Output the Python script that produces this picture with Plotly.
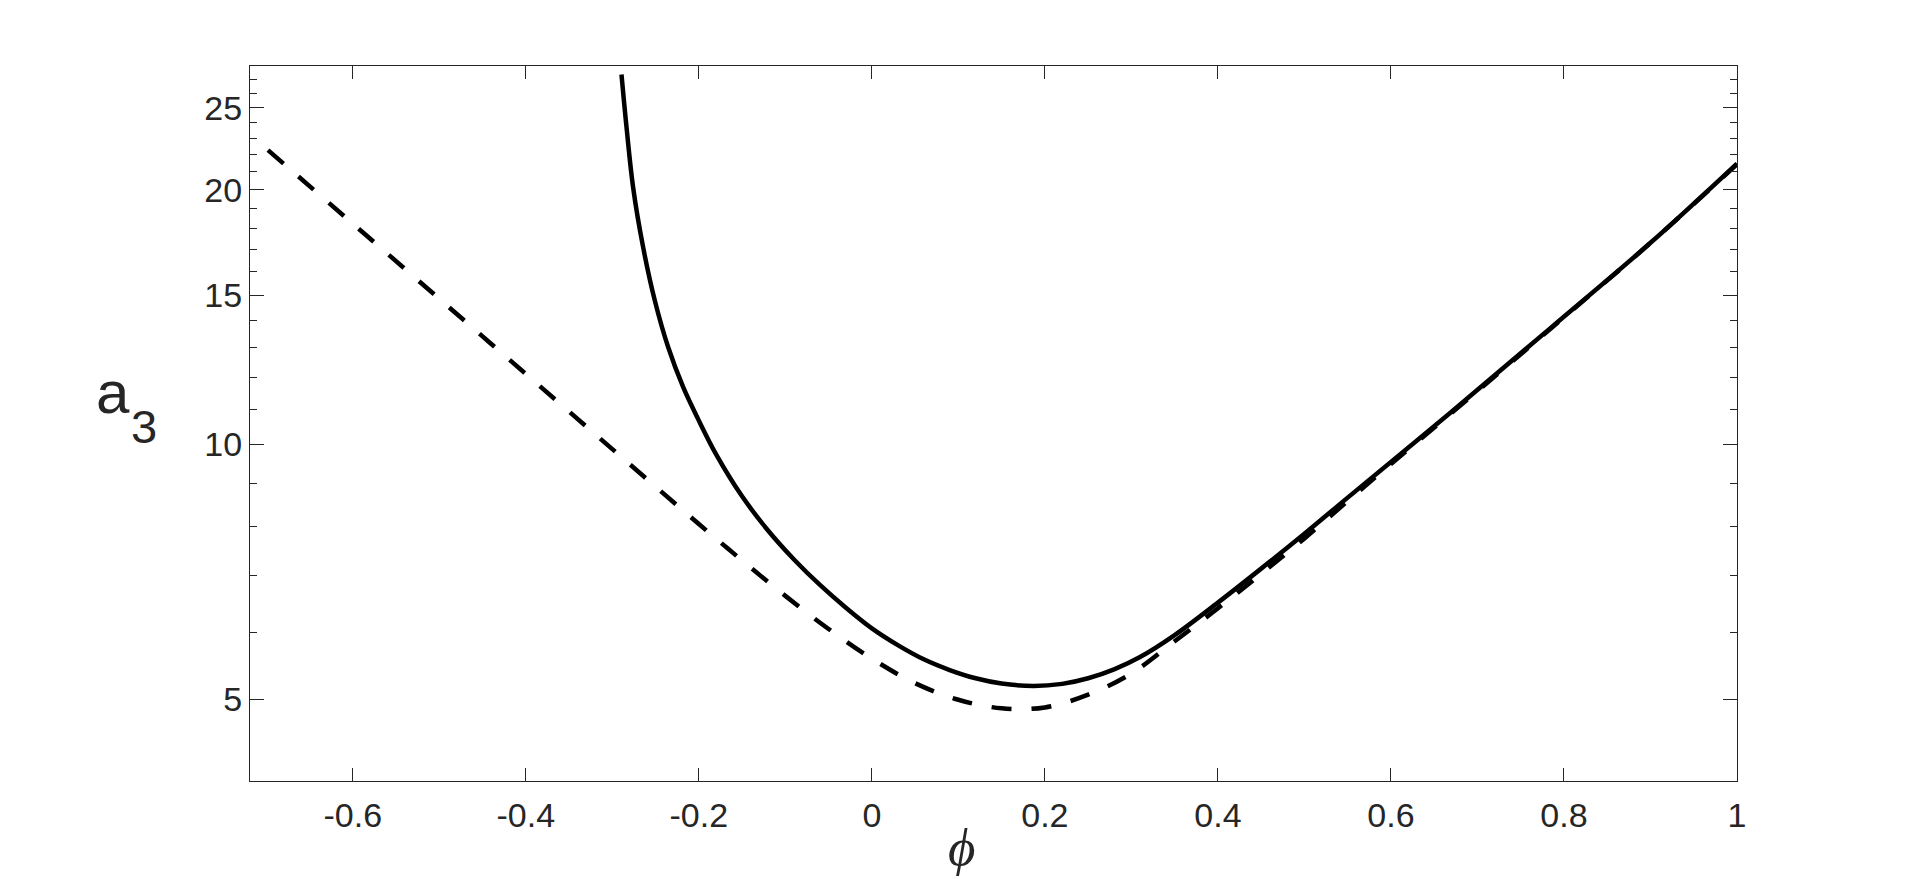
import numpy as np
import plotly.graph_objects as go

# ---- data ----
solid_x = [-0.2894, -0.2836, -0.276, -0.2644, -0.2509, -0.2355, -0.2182, -0.2008,
           -0.18, -0.15, -0.12, -0.09, -0.06, -0.03, 0.0, 0.03, 0.06, 0.09, 0.12,
           0.15, 0.187, 0.22, 0.25, 0.28, 0.31, 0.35, 0.40, 0.45, 0.50, 0.55,
           0.668, 0.784, 0.899, 1.0]
solid_y = [27.36, 23.71, 20.14, 17.10, 14.79, 13.03, 11.69, 10.71,
           9.73, 8.68, 7.91, 7.31, 6.82, 6.41, 6.06, 5.79, 5.57, 5.41, 5.29,
           5.215, 5.18, 5.21, 5.29, 5.42, 5.605, 5.95, 6.50, 7.13, 7.84, 8.65,
           10.88, 13.71, 17.27, 21.47]

dash_x = [-0.698, -0.6, -0.5, -0.4, -0.3, -0.2, -0.15, -0.1, -0.05, 0.0, 0.05,
          0.1, 0.15, 0.2, 0.25, 0.3, 0.35, 0.40, 0.45, 0.50, 0.55, 0.6, 0.7,
          0.8, 0.9, 1.0]
dash_y = [22.27, 18.23, 14.86, 12.11, 9.87, 8.05, 7.29, 6.62, 6.05, 5.58, 5.22,
          4.99, 4.875, 4.887, 5.06, 5.36, 5.85, 6.40, 7.03, 7.74, 8.57, 9.48, 11.56,
          14.13, 17.30, 21.43]

x_ticks = [-0.6, -0.4, -0.2, 0, 0.2, 0.4, 0.6, 0.8, 1]
x_tick_text = ["-0.6", "-0.4", "-0.2", "0", "0.2", "0.4", "0.6", "0.8", "1"]
y_ticks = [5, 10, 15, 20, 25]
y_tick_text = ["5", "10", "15", "20", "25"]
y_minor = list(range(4, 29))

AX = "#262626"
FONT = "Liberation Sans, Arial, sans-serif"
TICK_SIZE = 34

fig = go.Figure()
fig.add_trace(go.Scatter(x=dash_x, y=dash_y, mode="lines",
                         line=dict(color="black", width=4.5, dash="20px,20px",
                                   shape="spline", smoothing=1.0),
                         showlegend=False, hoverinfo="skip"))
fig.add_trace(go.Scatter(x=solid_x, y=solid_y, mode="lines",
                         line=dict(color="black", width=4.5, shape="spline", smoothing=1.0),
                         showlegend=False, hoverinfo="skip"))

L, R, T, B = 250, 1737, 66, 781
W, H = 1920, 879

def px(xp):
    return (xp - L) / (R - L)

def py(yp):
    return (B - yp) / (B - T)

fig.update_layout(
    width=W, height=H,
    margin=dict(l=L, r=W - R, t=T, b=H - B, pad=0),
    paper_bgcolor="white", plot_bgcolor="white",
    font=dict(family=FONT, color=AX, size=TICK_SIZE),
    xaxis=dict(range=[-0.7188, 1.0], tickmode="array", tickvals=x_ticks, ticktext=x_tick_text,
               ticks="inside", ticklen=13, tickwidth=1, tickcolor=AX,
               showline=True, linecolor=AX, linewidth=1.3, mirror="ticks",
               showgrid=False, zeroline=False, ticklabelstandoff=4,
               tickfont=dict(size=TICK_SIZE, color=AX, family=FONT)),
    yaxis=dict(type="log", range=[np.log10(4), np.log10(28)], tickmode="array",
               tickvals=y_ticks, ticktext=y_tick_text,
               ticks="inside", ticklen=14, tickwidth=1, tickcolor=AX,
               minor=dict(tickmode="array", tickvals=y_minor, ticks="inside", ticklen=7,
                          tickwidth=1, tickcolor=AX, showgrid=False),
               showline=True, linecolor=AX, linewidth=1.3, mirror="ticks",
               showgrid=False, zeroline=False,
               tickfont=dict(size=TICK_SIZE, color=AX, family=FONT)),
    annotations=[
        dict(text="a", xref="paper", yref="paper", x=px(112.5), y=py(392),
             xanchor="center", yanchor="middle", showarrow=False,
             font=dict(size=60, color=AX, family=FONT)),
        dict(text="3", xref="paper", yref="paper", x=px(143.5), y=py(426),
             xanchor="center", yanchor="middle", showarrow=False,
             font=dict(size=47, color=AX, family=FONT)),
        dict(text="<i>ϕ</i>", xref="paper", yref="paper", x=px(961), y=py(847),
             xanchor="center", yanchor="middle", showarrow=False,
             font=dict(size=53, color=AX, family="Liberation Serif, Times New Roman, serif")),
    ],
)

fig.write_html("out.html")
